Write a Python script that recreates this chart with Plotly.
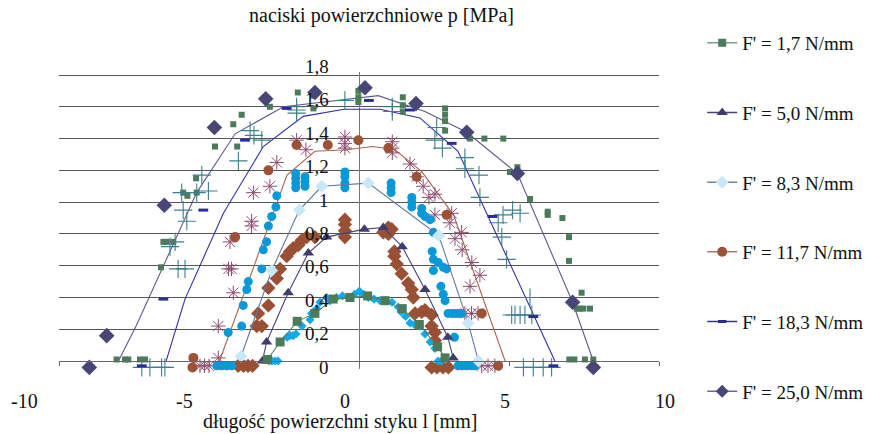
import plotly.graph_objects as go

# ---------------- data ----------------
# fitted curves (lines)
line_17_x = [-3.05, -2.63, -2.06, -1.47, -0.86, -0.30, 0.29, 0.87, 1.44, 2.01, 2.62, 2.87]
line_17_y = [0.01, 0.12, 0.25, 0.30, 0.39, 0.40, 0.41, 0.38, 0.33, 0.23, 0.09, 0.02]

line_50_x = [-3.22, -3.08, -2.36, -1.69, -1.08, 0.18, 0.81, 1.44, 2.20, 2.96, 3.14]
line_50_y = [0.00, 0.12, 0.43, 0.68, 0.78, 0.83, 0.84, 0.72, 0.45, 0.15, 0.02]

line_83_x = [-3.93, -2.91, -1.99, -1.24, 0.31, 2.66, 3.64, 3.98]
line_83_y = [0.03, 0.57, 0.95, 1.10, 1.12, 0.79, 0.24, 0.00]

line_117_x = [-4.65, -2.40, -1.47, -0.40, 0.45, 1.20, 2.10, 3.15, 4.87]
line_117_y = [0.00, 1.17, 1.32, 1.33, 1.35, 1.33, 1.19, 0.92, 0.00]

line_183_x = [-6.43, -5.80, -4.52, -3.19, -1.86, -0.50, 0.70, 2.03, 3.30, 6.53]
line_183_y = [0.00, 0.39, 0.93, 1.35, 1.54, 1.585, 1.585, 1.53, 1.32, 0.00]

line_250_x = [-8.02, -7.43, -5.41, -4.13, -2.52, -1.00, 0.64, 2.20, 3.59, 5.28, 7.12, 7.81]
line_250_y = [0.00, 0.22, 1.06, 1.43, 1.60, 1.635, 1.67, 1.57, 1.44, 1.18, 0.37, 0.00]

# measured points
diam_250_x = [-8.99, -8.41, -6.49, -4.82, -3.11, -1.47, 0.20, 1.90, 3.59, 5.28, 7.12, 7.81]
diam_250_y = [-0.04, 0.16, 0.98, 1.47, 1.65, 1.69, 1.72, 1.62, 1.44, 1.18, 0.37, -0.04]

dash_183_x = [-7.24, -6.52, -5.19, -3.80, -2.41, 0.33, 1.70, 3.09, 4.45, 5.81, 6.48]
dash_183_y = [-0.03, 0.39, 0.95, 1.39, 1.59, 1.64, 1.58, 1.37, 0.91, 0.28, -0.03]

circ_117_x = [-5.52, -5.55, -4.13, -3.02, -2.08, -1.04, -0.02, 0.98, 1.92, 2.92, 4.09, 4.64]
circ_117_y = [0.02, -0.04, 0.78, 1.20, 1.36, 1.36, 1.39, 1.34, 1.16, 0.92, 0.30, -0.03]

cyan_small_x = [-3.00, -2.90, -2.80, -2.70, -2.40, -2.30, -2.20, -2.10, -1.90, -1.63, -1.58, -1.41,
                -1.30, -1.08, -0.97, -0.75, -0.55, -0.36, -0.15, 0.01, 0.15, 0.31, 0.50, 0.70,
                0.90, 1.10, 1.31, 1.40, 1.55, 1.70, 1.85, 2.03, 2.20, 2.37, 2.53, 2.64, 2.75]
cyan_small_y = [0.00, 0.00, 0.00, 0.00, 0.15, 0.16, 0.16, 0.17, 0.22, 0.26, 0.30, 0.33,
                0.37, 0.40, 0.38, 0.40, 0.41, 0.40, 0.42, 0.44, 0.42, 0.40, 0.39, 0.38,
                0.38, 0.37, 0.34, 0.31, 0.28, 0.24, 0.23, 0.22, 0.17, 0.12, 0.08, 0.00, 0.00]

cyan_circ_x = [-4.74, -4.58, -4.41, -4.24, -4.36, -3.91, -3.86, -3.74, -3.69, -3.24, -3.19, -3.08,
               -3.02, -2.91, -2.77, -2.74, -2.11, -2.11, -2.11, -2.11, -1.80, -1.80, -1.80,
               -0.47, -0.47, -0.47, -0.47, 1.07, 1.07, 1.07, 1.76, 1.76, 1.76, 2.09, 2.09,
               2.20, 2.37, 2.48, 2.44, 2.48, 2.48, 2.64, 2.81, 2.92, 2.73, 2.81, 2.87,
               2.97, 3.10, 3.20, 3.30, 3.43, 3.18, 3.30, 3.45, 3.60, 3.75, 3.87]
cyan_circ_y = [-0.03, -0.03, -0.03, -0.03, 0.18, 0.22, 0.35, 0.45, 0.50, 0.58, 0.70, 0.75,
               0.85, 0.91, 0.97, 1.04, 1.09, 1.12, 1.15, 1.18, 1.10, 1.13, 1.16,
               1.09, 1.12, 1.16, 1.19, 1.06, 1.09, 1.12, 0.97, 1.00, 1.03, 0.93, 0.96,
               0.91, 0.89, 0.81, 0.69, 0.64, 0.57, 0.62, 0.59, 0.58, 0.47, 0.42, 0.38,
               0.30, 0.30, 0.30, 0.30, 0.30, 0.15, -0.03, -0.03, -0.03, -0.03, -0.03]

brown_diam_x = [-4.03, -3.85, -3.70, -3.55, -3.41, -3.24, -3.36, -3.02, -3.02, -2.74, -2.63, -2.41,
                -2.30, -2.19, -2.02, -1.91, -1.74, -1.47, -0.47, -0.47, -0.47, -0.47, 0.81, 0.98,
                1.09, 0.98, 1.18, 1.18, 1.26, 1.42, 1.64, 1.76, 1.81, 1.87, 2.09, 2.20, 2.42,
                2.42, 2.53, 2.53, 2.42, 2.60, 2.80, 2.98]
brown_diam_y = [-0.03, -0.03, -0.03, -0.03, 0.22, 0.22, 0.30, 0.35, 0.46, 0.52, 0.58, 0.66,
                0.69, 0.71, 0.73, 0.76, 0.78, 0.78, 0.78, 0.82, 0.86, 0.89, 0.81, 0.80,
                0.83, 0.84, 0.66, 0.69, 0.61, 0.55, 0.49, 0.45, 0.40, 0.30, 0.31, 0.32, 0.29,
                0.22, 0.18, 0.13, -0.04, -0.04, -0.04, -0.04]

aster_x = [-5.30, -5.15, -5.00, -4.69, -4.69, -4.19, -4.35, -4.25, -4.30, -3.58, -3.58, -3.52,
           -2.97, -2.74, -2.08, -1.77, -0.47, -0.47, -0.47, 1.11, 1.11, 1.11, 1.70, 1.92,
           2.14, 2.33, 2.53, 2.53, 3.09, 3.03, 3.42, 3.20, 3.44, 3.76, 4.03, 3.70, 3.53,
           3.75, 3.97, 4.09, 4.30, 4.53]
aster_y = [-0.03, -0.03, -0.03, 0.02, 0.22, 0.43, 0.58, 0.58, 0.75, 0.88, 0.85, 1.06,
           1.10, 1.25, 1.39, 1.33, 1.34, 1.37, 1.41, 1.31, 1.34, 1.38, 1.24, 1.16,
           1.10, 1.03, 1.05, 0.92, 0.93, 0.87, 0.81, 0.77, 0.70, 0.62, 0.54, 0.47, 0.30,
           0.30, 0.30, -0.03, -0.03, -0.03]

cross_x = [-7.24, -6.97, -6.58, -6.47, -6.03, -5.80, -6.30, -6.13, -5.74, -5.86, -5.91, -5.41,
           -5.24, -5.02, -4.02, -3.63, -3.50, -3.24, -2.08, -2.08, -2.08, -0.47, 1.11, 1.11,
           2.59, 2.53, 2.78, 3.53, 3.53, 4.00, 4.03, 4.80, 5.12, 5.37, 4.64, 4.76, 4.92,
           5.09, 5.70, 5.20, 5.37, 5.53, 5.76, 5.48, 5.81, 6.14, 6.42]
cross_y = [-0.04, -0.04, -0.04, -0.04, 0.58, 0.58, 0.72, 0.75, 0.88, 0.95, 1.06, 1.06,
           1.17, 1.07, 1.26, 1.45, 1.42, 1.39, 1.56, 1.58, 1.60, 1.64, 1.57, 1.60,
           1.47, 1.39, 1.34, 1.28, 1.21, 1.17, 1.03, 0.92, 0.95, 0.93, 0.87, 0.78, 0.64,
           0.29, 0.40, 0.29, 0.29, 0.29, 0.29, -0.04, -0.04, -0.04, -0.04]

green_small_x = [-8.08, -7.80, -7.69, -7.30, -7.13, -6.60, -6.52, -6.41, -6.19, -5.86, -5.72, -5.41,
                 -5.43, -4.80, -4.06, -4.19, -3.91, -2.97, -2.04, -1.52, -1.52, -0.02, -0.02, -0.02,
                 1.46, 1.46, 1.46, 2.87, 2.87, 2.87, 2.87, 3.70, 4.18, 4.81, 5.03, 5.28, 5.70,
                 6.29, 6.29, 6.78, 7.00, 7.00, 7.42, 7.26, 7.37, 7.48, 7.70, 7.01, 7.18, 7.53, 7.81]
green_small_y = [0.01, 0.01, 0.01, 0.01, 0.01, 0.59, 0.75, 0.75, 0.75, 1.06, 1.04, 1.06,
                 1.15, 1.35, 1.35, 1.49, 1.55, 1.60, 1.69, 1.67, 1.59, 1.63, 1.66, 1.70,
                 1.57, 1.61, 1.66, 1.51, 1.55, 1.59, 1.45, 1.40, 1.40, 1.40, 1.19, 1.22, 1.02,
                 0.92, 0.94, 0.90, 0.78, 0.63, 0.43, 0.33, 0.33, 0.33, 0.33, 0.01, 0.01, 0.01, 0.01]

legend_names = ["F' = 1,7 N/mm", "F' = 5,0 N/mm", "F' = 8,3 N/mm",
                "F' = 11,7 N/mm", "F' = 18,3 N/mm", "F' = 25,0 N/mm"]

y_tick_vals = [0, 0.2, 0.4, 0.6, 0.8, 1.0, 1.2, 1.4, 1.6, 1.8]
y_tick_text = ["0", "0,2", "0,4", "0,6", "0,8", "1", "1,2", "1,4", "1,6", "1,8"]
x_tick_vals = [-10, -5, 0, 5, 10]
x_tick_text = ["-10", "-5", "0", "5", "10"]

title_text = "naciski powierzchniowe p [MPa]"
xtitle_text = "długość powierzchni styku l [mm]"

# ---------------- styles ----------------
FONT = "Liberation Serif"
C_GREEN = "#4b7b5b"
C_NAVY = "#3f3d70"
C_LBLUE = "#c8e8f8"
C_BROWN = "#9c5237"
C_BLUE = "#2b2b9a"
C_PURP = "#474676"

Y_MIN, Y_MAX = -0.05, 1.819

fig = go.Figure()

def add_line(x, y, color, width=1.1, marker=None):
    fig.add_trace(go.Scatter(x=x, y=y, mode="lines+markers" if marker else "lines",
                             line=dict(color=color, width=width),
                             marker=marker, showlegend=False, cliponaxis=False,
                             hoverinfo="skip"))

def add_pts(x, y, marker):
    fig.add_trace(go.Scatter(x=x, y=y, mode="markers", marker=marker,
                             showlegend=False, cliponaxis=False, hoverinfo="skip"))

# fitted lines
add_line(line_250_x, line_250_y, "#5c5b8c")
add_line(line_183_x, line_183_y, "#3030a8")
add_line(line_117_x, line_117_y, "#a8674c")

# measured scatter
add_pts(green_small_x, green_small_y, dict(symbol="square", size=6, color=C_GREEN))
add_pts(cross_x, cross_y, dict(symbol="cross-thin", size=13,
                               line=dict(color="#3d7f8e", width=1.1)))
add_pts(aster_x, aster_y, dict(symbol="asterisk", size=12,
                               line=dict(color="#8e4c70", width=1.0)))
add_pts(circ_117_x, circ_117_y, dict(symbol="circle", size=10, color=C_BROWN))
add_pts(brown_diam_x, brown_diam_y, dict(symbol="diamond", size=11, color="#9a5035"))
add_pts(cyan_circ_x, cyan_circ_y, dict(symbol="circle", size=9, color="#0a98d8"))
add_pts(dash_183_x, dash_183_y, dict(symbol="line-ew", size=7,
                                     line=dict(color=C_BLUE, width=3)))
add_pts(diam_250_x, diam_250_y, dict(symbol="diamond", size=12, color=C_PURP))

# lines carrying their own markers
add_line(line_83_x, line_83_y, "#5f7a9c", marker=dict(symbol="diamond", size=10, color=C_LBLUE))
add_line(line_50_x, line_50_y, "#46457a", marker=dict(symbol="triangle-up", size=10, color=C_NAVY))
add_pts(cyan_small_x, cyan_small_y, dict(symbol="diamond", size=7, color="#14a8ea"))
add_line(line_17_x, line_17_y, "#4f8060", marker=dict(symbol="square", size=9, color=C_GREEN))

# legend entries
legend_styles = [
    ("#7da08a", dict(symbol="square", size=8, color=C_GREEN)),
    ("#46457a", dict(symbol="triangle-up", size=10, color=C_NAVY)),
    ("#6f85a6", dict(symbol="diamond", size=10, color=C_LBLUE)),
    ("#b07a66", dict(symbol="circle", size=10, color=C_BROWN)),
    ("#3030a8", dict(symbol="line-ew", size=6, line=dict(color=C_BLUE, width=3))),
    ("#6a6a96", dict(symbol="diamond", size=10, color=C_PURP)),
]
for i, (name, (lc, mk)) in enumerate(zip(legend_names, legend_styles)):
    fig.add_trace(go.Scatter(x=[None], y=[None], mode="lines+markers", name=name,
                             line=dict(color=lc, width=1.5), marker=mk,
                             legendgroup=f"g{i}", showlegend=True))

annotations = []
# tick labels (the reference spaces them slightly wider than the grid)
for v, t in zip(y_tick_vals, y_tick_text):
    annotations.append(dict(x=0, xref="x", y=v, yref="y",
                            text=t, showarrow=False, xanchor="right", yanchor="middle",
                            xshift=-28, yshift=-6 + 8.1 * v,
                            font=dict(family=FONT, size=19, color="#111")))
for v, t in zip(x_tick_vals, x_tick_text):
    annotations.append(dict(x=v * 0.9999, xref="x", y=0, yref="y",
                            text=t, showarrow=False, xanchor="center", yanchor="middle",
                            xshift=-14.5 + 2.05 * v, yshift=-40,
                            font=dict(family=FONT, size=20, color="#111")))
annotations.append(dict(x=0.538, xref="paper", y=1.189, yref="paper", text=title_text,
                        showarrow=False, xanchor="center", yanchor="middle",
                        font=dict(family=FONT, size=20, color="#111")))
annotations.append(dict(x=0.468, xref="paper", y=-0.178, yref="paper", text=xtitle_text,
                        showarrow=False, xanchor="center", yanchor="middle",
                        font=dict(family=FONT, size=20, color="#111")))

fig.update_layout(
    width=876, height=434,
    margin=dict(l=59, r=217, t=72, b=65, autoexpand=False),
    paper_bgcolor="white", plot_bgcolor="white",
    xaxis=dict(range=[-10, 10], dtick=5, showgrid=False, showticklabels=False,
               zeroline=True, zerolinecolor="#777", zerolinewidth=1,
               showline=True, linecolor="#666", linewidth=1.3,
               anchor="free", position=(0 - Y_MIN) / (Y_MAX - Y_MIN),
               ticks="outside", ticklen=4, tickcolor="#666"),
    yaxis=dict(range=[Y_MIN, Y_MAX], tick0=0, dtick=0.2, showgrid=True,
               gridcolor="#555555", gridwidth=1.2,
               showticklabels=False, zeroline=False, showline=False),
    legend=dict(x=1.072, xanchor="left", y=1.162, yanchor="top",
                font=dict(family=FONT, size=19, color="#111"), maxheight=430,
                tracegroupgap=42, bgcolor="rgba(0,0,0,0)"),
    annotations=annotations,
    showlegend=True,
)

fig.write_html("out.html", config={"displayModeBar": False},
               post_script="document.body.style.margin='0px';")
